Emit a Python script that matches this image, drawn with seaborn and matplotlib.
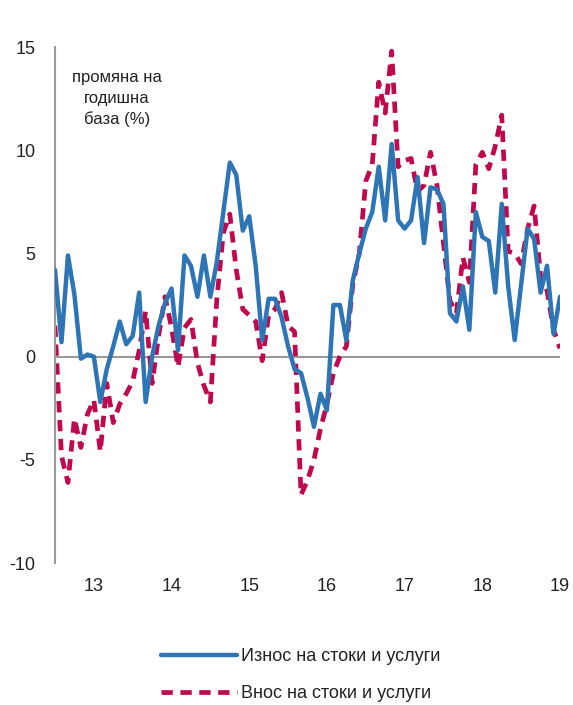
import numpy as np
import pandas as pd
import matplotlib
matplotlib.use("Agg")
import matplotlib.pyplot as plt
import seaborn as sns

# monthly, Jul 2012 .. Jan 2019, % y/y
exports = [4.2, 0.7, 4.9, 3.0, -0.1, 0.1, 0.0, -2.2, -0.6, 0.5, 1.7, 0.6, 1.0, 3.1,
           -2.2, 0.0, 1.5, 2.6, 3.3, 0.3, 4.9, 4.4, 2.9, 4.9, 2.9, 4.6, 7.0, 9.4,
           8.8, 6.1, 6.8, 4.4, 0.8, 2.8, 2.8, 1.9, 0.5, -0.6, -0.8, -2.0, -3.4, -1.8,
           -2.6, 2.5, 2.5, 0.8, 3.7, 5.0, 6.2, 7.0, 9.2, 6.6, 10.3, 6.6, 6.2, 6.6,
           8.7, 5.5, 8.2, 8.1, 7.4, 2.1, 1.7, 3.4, 1.3, 7.0, 5.8, 5.6, 3.1, 7.4,
           3.4, 0.8, 3.5, 6.2, 5.7, 3.1, 4.4, 1.1, 2.9]
imports = [1.5, -4.8, -6.1, -3.0, -4.4, -2.8, -2.1, -4.6, -1.3, -3.2, -2.3, -1.8, -1.2, 0.3,
           2.2, -1.3, 1.0, 2.9, 1.4, -0.5, 1.4, 1.8, -0.3, -1.4, -2.2, 2.8, 6.0, 6.9,
           4.2, 2.3, 2.0, 1.7, -0.2, 2.0, 2.3, 3.1, 1.5, 1.2, -6.7, -6.0, -5.0, -3.5,
           -2.3, -0.8, 0.0, 0.5, 3.5, 5.0, 8.5, 9.3, 13.3, 11.8, 14.8, 9.2, 9.5, 9.6,
           8.0, 8.3, 9.9, 8.3, 5.5, 2.7, 2.1, 4.8, 3.6, 9.3, 9.9, 9.1, 10.2, 11.7,
           5.1, 5.0, 4.5, 6.2, 7.3, 3.9, 3.2, 1.3, 0.4]
year_labels = ['13', '14', '15', '16', '17', '18', '19']
y_ticks = [15, 10, 5, 0, -5, -10]

months = np.arange(len(exports))
df = pd.DataFrame({'month': months, 'exp': exports, 'imp': imports})

sns.set_style("white")
plt.rcParams['font.family'] = ['Liberation Sans', 'DejaVu Sans']
plt.rcParams['axes.unicode_minus'] = False

fig = plt.figure(figsize=(5.73, 7.05), dpi=100)
ax = fig.add_axes([55/573, 1-563/705, (560-55)/573, (563-47)/705])

ax.axhline(0, color='#999999', lw=1.5, zorder=1)
sns.lineplot(data=df, x='month', y='exp', ax=ax, color='#2E75B6', lw=3.2,
             label='Износ на стоки и услуги', zorder=3)
sns.lineplot(data=df, x='month', y='imp', ax=ax, color='#C0084F', lw=3.4,
             linestyle=(0, (2.4, 1.6)), label='Внос на стоки и услуги', zorder=2)

ax.set_xlim(0, len(exports) - 1)
ax.set_ylim(-10, 15)
ax.set_xticks(np.arange(6, len(exports), 12))
ax.set_xticklabels(year_labels)
ax.set_yticks(y_ticks)
ax.set_yticklabels([str(v) for v in y_ticks])
ax.tick_params(axis='both', length=0, labelsize=13, colors='#222222')
ax.tick_params(axis='y', pad=14)
ax.tick_params(axis='x', pad=11)
ax.set_xlabel('')
ax.set_ylabel('')

for s in ['top', 'right', 'bottom']:
    ax.spines[s].set_visible(False)
ax.spines['left'].set_color('#999999')
ax.spines['left'].set_linewidth(1.5)

ax.text(0.123, 0.955, 'промяна на\nгодишна\nбаза (%)', transform=ax.transAxes,
        ha='center', va='top', fontsize=12, linespacing=1.45, color='#222222')

handles, labels = ax.get_legend_handles_labels()
ax.get_legend().remove()
fig.legend(handles, labels, loc='upper left', bbox_to_anchor=(145/573, 1-632/705),
           frameon=False, fontsize=13, handlelength=4.2, handletextpad=0.2,
           labelspacing=1.1, labelcolor='#222222')

fig.savefig('out.png', dpi=100)
